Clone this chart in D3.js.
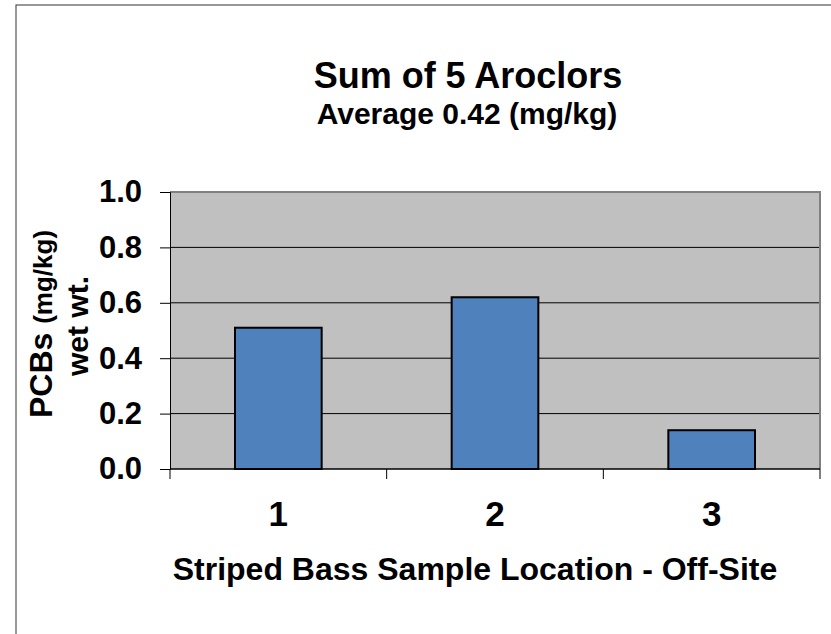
<!DOCTYPE html>
<html>
<head>
<meta charset="utf-8">
<script src="https://cdn.jsdelivr.net/npm/d3@7"></script>
<style>
  body { margin: 0; background: #fff; }
  svg { display: block; font-family: "Liberation Sans", Arial, sans-serif; font-weight: bold; }
</style>
</head>
<body>
<svg id="chart" width="831" height="634"></svg>
<script>
// data
var locations = ["1", "2", "3"];
var pcbValues = [0.51, 0.62, 0.14];
var yTicks = [0, 0.2, 0.4, 0.6, 0.8, 1.0];

var svg = d3.select("#chart"),
    plot = { left: 170, top: 192, right: 820, bottom: 469 };

// outer chart frame (cut off at right / bottom)
svg.append("rect")
    .attr("x", 16).attr("y", 5)
    .attr("width", 900).attr("height", 700)
    .attr("fill", "#fff")
    .attr("stroke", "#333")
    .attr("stroke-width", 1);

var x = d3.scaleBand()
    .domain(locations)
    .range([plot.left, plot.right])
    .paddingInner(0.6)
    .paddingOuter(0.3);

var y = d3.scaleLinear()
    .domain([0, 1])
    .range([plot.bottom, plot.top]);

// plot background
svg.append("rect")
    .attr("x", plot.left).attr("y", plot.top)
    .attr("width", plot.right - plot.left)
    .attr("height", plot.bottom - plot.top)
    .attr("fill", "#c0c0c0");

// gridlines
svg.append("g")
    .selectAll("line")
    .data(yTicks.filter(function (d) { return d > 0 && d < 1; }))
    .join("line")
    .attr("x1", plot.left).attr("x2", plot.right)
    .attr("y1", function (d) { return y(d); })
    .attr("y2", function (d) { return y(d); })
    .attr("stroke", "#000")
    .attr("stroke-width", 1);

// plot border (top / right)
svg.append("path")
    .attr("d", "M" + plot.left + "," + plot.top + "H" + plot.right + "V" + plot.bottom)
    .attr("fill", "none")
    .attr("stroke", "#808080")
    .attr("stroke-width", 2);

// bars
svg.append("g")
    .selectAll("rect")
    .data(pcbValues)
    .join("rect")
    .attr("x", function (d, i) { return x(locations[i]); })
    .attr("y", function (d) { return y(d); })
    .attr("width", x.bandwidth())
    .attr("height", function (d) { return y(0) - y(d); })
    .attr("fill", "#4f81bd")
    .attr("stroke", "#000")
    .attr("stroke-width", 2);

// y axis
var yAxis = svg.append("g")
    .attr("transform", "translate(" + plot.left + ",0)")
    .call(d3.axisLeft(y).tickValues(yTicks).tickFormat(d3.format(".1f")).tickSize(10).tickPadding(18));
yAxis.select(".domain").attr("stroke", "#000");
yAxis.selectAll("text")
    .attr("fill", "#000")
    .style("font-size", "31px")
    .style("font-family", "'Liberation Sans', Arial, sans-serif")
    .style("font-weight", "bold");

// x axis: ticks between categories
var boundaries = [plot.left].concat(locations.map(function (d) { return x(d) - x.step() * x.paddingInner() / 2 + x.step(); }));
svg.append("line")
    .attr("x1", plot.left).attr("x2", plot.right)
    .attr("y1", y(0)).attr("y2", y(0))
    .attr("stroke", "#000").attr("stroke-width", 1.5);
svg.append("g")
    .selectAll("line")
    .data(boundaries)
    .join("line")
    .attr("x1", function (d) { return d; }).attr("x2", function (d) { return d; })
    .attr("y1", y(0)).attr("y2", y(0) + 10)
    .attr("stroke", "#000");

svg.append("g")
    .selectAll("text")
    .data(locations)
    .join("text")
    .attr("x", function (d) { return x(d) + x.bandwidth() / 2; })
    .attr("y", 526)
    .attr("text-anchor", "middle")
    .style("font-size", "35px")
    .text(function (d) { return d; });

// titles
svg.append("text")
    .attr("x", 468).attr("y", 88)
    .attr("text-anchor", "middle")
    .style("font-size", "36px")
    .text("Sum of 5 Aroclors");

svg.append("text")
    .attr("x", 467).attr("y", 124)
    .attr("text-anchor", "middle")
    .style("font-size", "30px")
    .text("Average 0.42 (mg/kg)");

svg.append("text")
    .attr("x", 475).attr("y", 580)
    .attr("text-anchor", "middle")
    .style("font-size", "32px")
    .text("Striped Bass Sample Location - Off-Site");

var yTitle = svg.append("text")
    .attr("transform", "translate(52,324) rotate(-90)")
    .attr("text-anchor", "middle")
    .style("font-size", "32px");
yTitle.append("tspan").text("PCBs ");
yTitle.append("tspan").style("font-size", "26px").text("(mg/kg)");

svg.append("text")
    .attr("transform", "translate(88,326) rotate(-90)")
    .attr("text-anchor", "middle")
    .style("font-size", "30px")
    .text("wet wt.");
</script>
</body>
</html>
